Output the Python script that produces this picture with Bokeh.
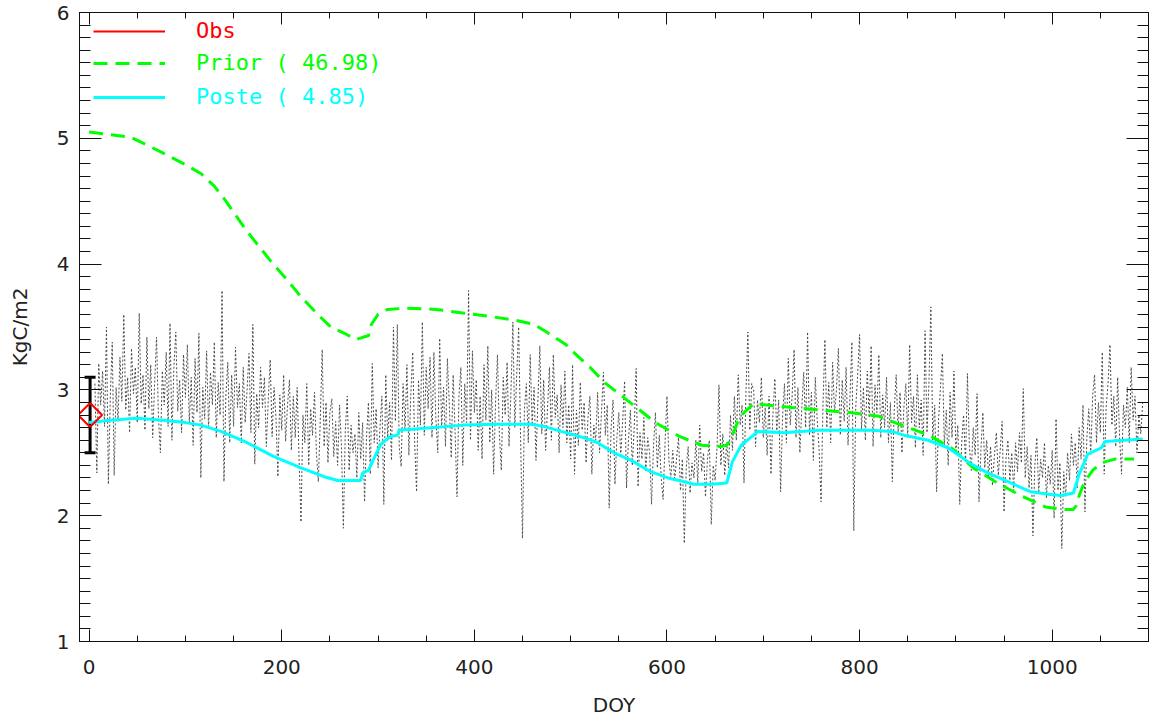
from bokeh.plotting import figure
from bokeh.models import (Range1d, LinearAxis, FixedTicker, Legend, LegendItem,
                          Whisker, TeeHead, ColumnDataSource)
from bokeh.embed import file_html
from bokeh.resources import INLINE

# ---------------- data ----------------
obs_day = list(range(6, 1095, 2))
obs_daily = [
    3.05, 2.34, 3.21, 2.88, 3.15, 2.71, 3.50, 2.25, 2.95, 3.38, 2.32, 3.02, 2.75, 3.26, 2.91, 3.60, 2.84, 3.10, 2.66, 3.33, 2.97, 3.18, 2.74, 3.61, 2.89,
    3.12, 2.68, 3.42, 2.85, 3.20, 2.62, 3.05, 3.42, 2.78, 2.50, 3.15, 2.88, 3.30, 2.71, 3.53, 2.60, 3.18, 3.46, 2.83, 3.08, 2.66, 3.28, 2.94, 3.36, 2.74,
    3.10, 2.56, 3.25, 2.82, 3.45, 2.30, 3.02, 2.77, 3.31, 2.69, 3.14, 2.88, 3.38, 2.62, 3.06, 2.80, 3.79, 2.27, 2.96, 3.22, 2.58, 3.12, 2.71, 3.34, 2.86,
    3.05, 2.58, 3.18, 2.74, 3.00, 3.29, 2.66, 3.52, 2.41, 2.97, 2.70, 3.18, 2.86, 3.10, 2.55, 2.92, 3.24, 2.63, 3.02, 2.78, 2.31, 2.96, 2.68, 3.12, 2.59,
    2.88, 3.08, 2.52, 2.95, 2.62, 3.02, 2.45, 1.95, 2.80, 2.58, 3.05, 2.40, 2.85, 2.64, 2.98, 2.50, 2.27, 2.76, 3.32, 2.55, 2.90, 2.42, 2.82, 2.93, 2.47,
    2.75, 2.40, 2.88, 2.55, 1.90, 2.68, 2.95, 2.36, 2.72, 2.50, 2.65, 2.30, 2.82, 2.45, 2.74, 2.11, 2.62, 2.90, 2.33, 3.21, 2.58, 2.85, 2.38, 2.70, 2.95,
    2.09, 3.12, 2.62, 2.90, 2.44, 3.50, 2.75, 3.52, 2.55, 2.39, 3.05, 2.68, 3.20, 2.48, 2.96, 3.30, 2.58, 2.19, 3.08, 2.72, 3.54, 2.64, 3.18, 2.85, 3.26,
    2.62, 3.30, 2.78, 2.50, 3.41, 2.70, 3.02, 2.55, 3.25, 2.88, 2.46, 3.12, 2.66, 2.15, 2.95, 3.18, 2.40, 3.05, 2.74, 3.79, 2.60, 3.31, 2.82, 3.08, 2.52,
    2.95, 2.45, 3.20, 2.76, 3.35, 2.58, 3.00, 2.33, 2.90, 3.28, 2.64, 2.36, 3.10, 2.80, 3.22, 2.55, 2.98, 3.54, 2.70, 3.12, 3.50, 2.62, 1.82, 2.85, 3.05,
    2.58, 3.28, 2.72, 3.02, 2.44, 2.92, 3.35, 2.65, 3.08, 2.52, 2.86, 3.18, 2.60, 3.28, 2.78, 2.96, 2.50, 3.04, 2.70, 3.15, 2.58, 2.88, 2.45, 3.20, 2.33,
    2.84, 2.56, 3.06, 2.68, 2.90, 2.42, 2.78, 2.95, 2.33, 2.72, 2.60, 2.98, 2.50, 2.82, 3.14, 2.64, 2.88, 2.06, 2.70, 2.92, 2.25, 2.62, 2.82, 2.48, 2.75,
    3.07, 2.22, 2.60, 2.84, 2.40, 2.70, 3.17, 2.23, 2.66, 2.45, 2.78, 2.35, 2.62, 2.50, 2.09, 2.55, 2.82, 2.38, 2.64, 2.30, 2.13, 2.58, 2.95, 2.44, 2.30,
    2.52, 2.28, 2.46, 2.62, 2.20, 2.45, 1.78, 2.38, 2.55, 2.18, 2.42, 2.30, 2.60, 2.25, 2.72, 2.35, 2.50, 2.15, 2.44, 2.60, 1.93, 2.40, 2.28, 2.55, 3.04,
    2.40, 2.65, 2.32, 2.58, 2.38, 2.80, 2.52, 2.95, 2.60, 3.12, 2.72, 2.88, 2.26, 2.98, 3.46, 2.68, 3.05, 3.00, 2.55, 2.92, 2.74, 3.10, 2.62, 2.86, 2.48,
    2.95, 2.33, 2.80, 3.09, 2.66, 2.92, 2.19, 2.78, 3.05, 2.58, 3.25, 2.72, 2.96, 3.32, 2.62, 3.02, 2.50, 2.86, 3.14, 2.70, 3.46, 2.64, 2.98, 2.44, 3.10,
    2.76, 2.52, 2.11, 2.88, 3.40, 2.70, 3.06, 2.58, 3.22, 2.82, 3.00, 3.33, 2.64, 3.08, 2.75, 3.18, 2.56, 2.94, 3.38, 1.88, 2.86, 3.12, 3.44, 2.68, 3.02,
    2.60, 3.15, 2.78, 3.35, 2.55, 3.04, 2.82, 3.28, 2.62, 2.96, 2.70, 3.10, 2.58, 2.90, 2.27, 2.84, 3.12, 2.66, 2.98, 2.50, 2.86, 3.05, 2.62, 3.36, 2.74,
    2.95, 2.54, 3.12, 2.70, 2.92, 2.48, 3.47, 2.66, 3.05, 3.66, 2.60, 2.88, 2.19, 2.76, 3.02, 3.29, 2.55, 2.84, 2.40, 2.98, 2.62, 3.15, 2.50, 2.72, 2.09,
    2.58, 2.80, 2.42, 3.13, 2.55, 2.36, 2.70, 2.48, 2.97, 2.11, 2.52, 2.82, 2.38, 2.60, 2.30, 2.55, 2.24, 2.48, 2.66, 2.32, 2.52, 2.75, 2.03, 2.45, 2.60,
    2.28, 2.50, 2.20, 2.58, 2.35, 2.66, 2.42, 3.01, 2.30, 2.55, 2.22, 2.48, 1.84, 2.40, 2.62, 2.18, 2.45, 2.30, 2.58, 2.14, 2.40, 2.25, 2.52, 1.98, 2.77,
    2.20, 2.42, 1.74, 2.35, 2.15, 2.50, 2.28, 2.65, 2.40, 2.58, 2.22, 2.70, 2.45, 2.88, 2.03, 2.62, 2.85, 2.48, 2.95, 3.12, 2.58, 2.90, 2.66, 3.30, 2.33,
    2.86, 3.05, 3.36, 2.72, 2.95, 2.55, 3.10, 2.62, 2.33, 2.88, 2.70, 3.02, 2.58, 3.18, 2.76, 2.95, 2.50, 2.80, 2.65, 2.90,
]

prior_day = [0, 20, 43, 75, 100, 116, 130, 142, 163, 189, 205, 220, 240, 251, 265, 277, 285, 290,
             293, 300, 310, 330, 360, 390, 420, 445, 462, 475, 495, 507, 520, 535, 545, 565, 588,
             613, 636, 655, 662, 666, 673, 680, 690, 730, 760, 790, 820, 840, 872, 897, 918, 941,
             967, 993, 1010, 1022, 1025, 1028, 1033, 1042, 1051, 1065, 1085]
prior_val = [5.05, 5.03, 5.01, 4.89, 4.79, 4.72, 4.62, 4.50, 4.27, 4.02, 3.88, 3.74, 3.58, 3.50,
             3.45, 3.40, 3.42, 3.43, 3.52, 3.60, 3.64, 3.65, 3.64, 3.61, 3.58, 3.55, 3.52, 3.46,
             3.36, 3.27, 3.18, 3.06, 3.00, 2.88, 2.74, 2.63, 2.56, 2.55, 2.56, 2.60, 2.74, 2.82,
             2.89, 2.86, 2.84, 2.82, 2.79, 2.73, 2.64, 2.53, 2.38, 2.27, 2.16, 2.07, 2.05, 2.05,
             2.08, 2.16, 2.26, 2.36, 2.42, 2.45, 2.45]

poste_day = [0, 25, 50, 74, 100, 116, 137, 164, 192, 220, 244, 258, 270, 282, 284, 290, 296,
             303, 313, 320, 322, 355, 389, 424, 459, 472, 490, 514, 528, 545, 563, 583, 601, 618,
             628, 646, 662, 668, 677, 690, 694, 722, 757, 791, 812, 833, 846, 871, 892, 916, 933,
             957, 978, 996, 1009, 1022, 1028, 1037, 1051, 1055, 1075, 1094]
poste_val = [2.74, 2.76, 2.775, 2.76, 2.74, 2.72, 2.67, 2.58, 2.47, 2.38, 2.31, 2.28, 2.28, 2.28,
             2.34, 2.36, 2.46, 2.57, 2.63, 2.64, 2.68, 2.70, 2.72, 2.727, 2.727, 2.71, 2.67, 2.62,
             2.58, 2.50, 2.44, 2.35, 2.30, 2.27, 2.25, 2.25, 2.26, 2.43, 2.56, 2.64, 2.67, 2.66,
             2.68, 2.68, 2.68, 2.67, 2.64, 2.60, 2.54, 2.41, 2.34, 2.26, 2.19, 2.17, 2.16, 2.18,
             2.33, 2.49, 2.54, 2.59, 2.60, 2.61]

obs_point_day = [1]
obs_point_val = [2.80]
obs_point_upper = [3.10]
obs_point_lower = [2.50]

legend_labels = ["Obs", "Prior ( 46.98)", "Poste ( 4.85)"]
x_major = [0, 200, 400, 600, 800, 1000]
y_major = [1, 2, 3, 4, 5, 6]

# ---------------- figure ----------------
FONT = "DejaVu Sans"
TXT = "#222222"

p = figure(width=1159, height=722, output_backend="svg", toolbar_location=None,
           x_range=Range1d(-10, 1100), y_range=Range1d(1, 6),
           min_border_left=79, min_border_right=11, min_border_top=12, min_border_bottom=81,
           background_fill_color="white", border_fill_color="white")
p.grid.visible = False
p.outline_line_color = "#111111"
p.outline_line_width = 1

x_minor = list(range(0, 1101, 50))
y_minor = [round(1 + 0.1 * i, 1) for i in range(51)]
xt = FixedTicker(ticks=x_major, minor_ticks=x_minor)
yt = FixedTicker(ticks=y_major, minor_ticks=y_minor)

def style_axis(ax, major_in, minor_in, labels=True, ticks=None):
    ax.major_tick_in = major_in
    ax.major_tick_out = 0
    ax.minor_tick_in = minor_in
    ax.minor_tick_out = 0
    ax.axis_line_color = "#111111"
    ax.major_tick_line_color = "#111111"
    ax.minor_tick_line_color = "#111111"
    ax.major_label_text_font = FONT
    ax.major_label_text_color = TXT
    if labels:
        ax.major_label_text_font_size = "20px"
        ax.axis_label_text_font = FONT
        ax.axis_label_text_color = TXT
        ax.axis_label_text_font_style = "normal"
        ax.axis_label_text_font_size = "20px"
    else:
        ax.major_label_text_font_size = "1px"
        ax.major_label_standoff = 0
        ax.major_label_overrides = {t: "" for t in ticks}

p.xaxis.ticker = xt
p.yaxis.ticker = yt
style_axis(p.xaxis[0], 12, 6)
style_axis(p.yaxis[0], 22, 11)
p.xaxis.axis_label = "DOY"
p.yaxis.axis_label = "KgC/m2"
p.xaxis.major_label_standoff = 18
p.xaxis.axis_label_standoff = 16
p.yaxis.major_label_standoff = 10
p.yaxis.axis_label_standoff = 22

top = LinearAxis(ticker=xt)
style_axis(top, 12, 6, labels=False, ticks=x_major)
p.add_layout(top, "above")
right = LinearAxis(ticker=yt)
style_axis(right, 22, 11, labels=False, ticks=y_major)
p.add_layout(right, "right")

# ---------------- series ----------------
p.line(obs_day, obs_daily, line_color="#4a4a4a", line_width=1, line_dash="2 2")
r_prior = p.line(prior_day, prior_val, line_color="#00ff00", line_width=3, line_dash="14 8")
r_poste = p.line(poste_day, poste_val, line_color="#00ffff", line_width=3)
r_obs_leg = p.line(obs_point_day, obs_point_val, line_color="#ff0000", line_width=2)

p.scatter(obs_point_day, obs_point_val, marker="square", angle=0.7854, size=17,
          fill_color=None, line_color="#ff0000", line_width=2)
src = ColumnDataSource(dict(x=obs_point_day, up=obs_point_upper, lo=obs_point_lower))
p.add_layout(Whisker(source=src, base="x", upper="up", lower="lo", dimension="height",
                     line_color="black", line_width=3,
                     upper_head=TeeHead(size=11, line_color="black", line_width=3),
                     lower_head=TeeHead(size=11, line_color="black", line_width=3)))

# ---------------- legend (one per entry, to colour each label) ----------------
leg_colors = ["#ff0000", "#00ff00", "#00ffff"]
leg_renderers = [r_obs_leg, r_prior, r_poste]
leg_y = [598, 566, 532]
for lab, col, rend, ly in zip(legend_labels, leg_colors, leg_renderers, leg_y):
    lg = Legend(items=[LegendItem(label=lab, renderers=[rend])], location=(14, ly),
                glyph_width=72, glyph_height=20, label_height=20, label_standoff=31,
                label_text_font="DejaVu Sans Mono", label_text_font_size="22px",
                label_text_color=col,
                padding=0, margin=0, spacing=0, border_line_color=None,
                background_fill_color=None, background_fill_alpha=0)
    p.add_layout(lg, "center")

open("out.html", "w").write(file_html(p, INLINE))
